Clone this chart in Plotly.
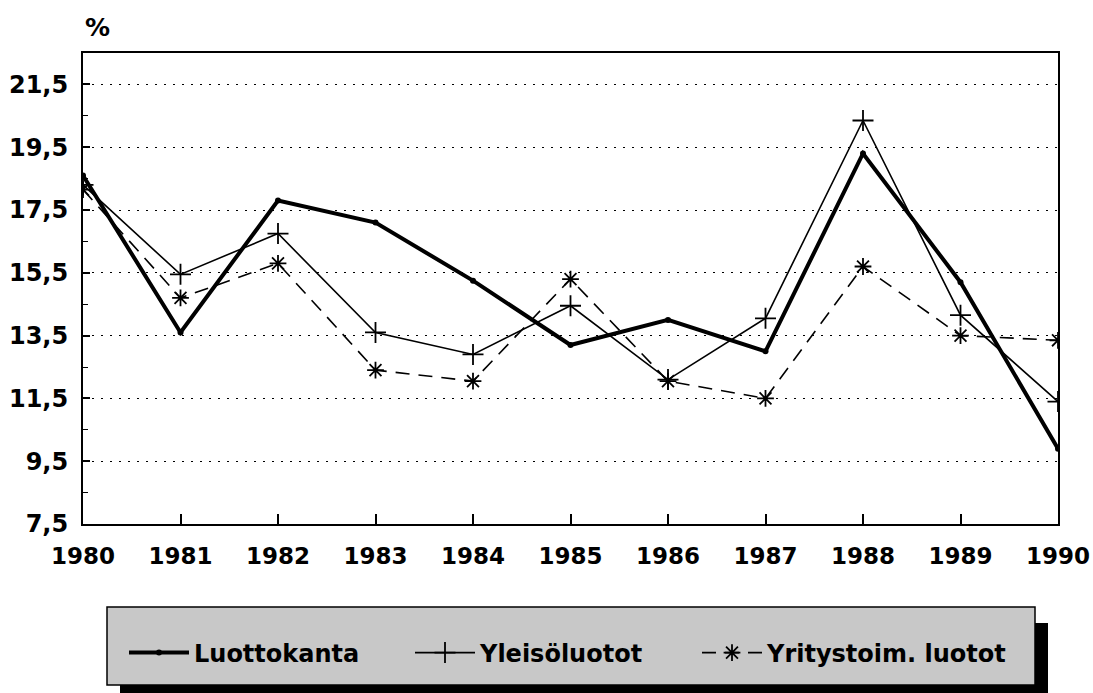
import plotly.graph_objects as go

years = [1980, 1981, 1982, 1983, 1984, 1985, 1986, 1987, 1988, 1989, 1990]
luottokanta = [18.6, 13.6, 17.8, 17.1, 15.25, 13.2, 14.0, 13.0, 19.3, 15.2, 9.9]
yleisoluotot = [18.3, 15.45, 16.75, 13.6, 12.9, 14.45, 12.1, 14.05, 20.35, 14.15, 11.4]
yritysluotot = [18.15, 14.7, 15.8, 12.4, 12.05, 15.3, 12.05, 11.5, 15.7, 13.5, 13.35]

series_names = ["Luottokanta", "Yleisöluotot", "Yritystoim. luotot"]
y_tickvals = [7.5, 9.5, 11.5, 13.5, 15.5, 17.5, 19.5, 21.5]
y_ticktext = ["7,5", "9,5", "11,5", "13,5", "15,5", "17,5", "19,5", "21,5"]
x_tickvals = years
x_ticktext = [str(y) for y in years]

W, H = 1093, 693
L, T = 83, 53
R = W - 1058
B = H - 524
PW, PH = W - L - R, H - T - B


def px_x(p):  # page pixel -> paper
    return (p - L) / PW


def px_y(p):
    return (H - B - p) / PH


def cx(p):  # page pixel -> container
    return p / W


def cy(p):
    return 1 - p / H


FONT = "DejaVu Sans"

fig = go.Figure()
fig.add_trace(go.Scatter(
    x=years, y=luottokanta, name=series_names[0], mode="lines+markers",
    line=dict(color="black", width=4),
    marker=dict(symbol="circle", size=6, color="black"),
    legend="legend",
))
fig.add_trace(go.Scatter(
    x=years, y=yleisoluotot, name=series_names[1], mode="lines+markers",
    line=dict(color="black", width=1.6),
    marker=dict(symbol="cross-thin-open", size=15, color="black",
                line=dict(color="black", width=1.8)),
    legend="legend2",
))
fig.add_trace(go.Scatter(
    x=years, y=yritysluotot, name=series_names[2], mode="lines+markers",
    line=dict(color="black", width=1.6, dash="14px,9px"),
    marker=dict(symbol="asterisk-open", size=14, color="black",
                line=dict(color="black", width=1.8)),
    legend="legend3",
))

# legend box with shadow
fig.add_shape(type="rect", xref="paper", yref="paper",
              x0=px_x(120), x1=px_x(1048), y0=px_y(623), y1=px_y(705),
              fillcolor="black", line=dict(width=0), layer="above")
fig.add_shape(type="rect", xref="paper", yref="paper",
              x0=px_x(107), x1=px_x(1035), y0=px_y(607), y1=px_y(685),
              fillcolor="#c8c8c8", line=dict(color="black", width=1.5), layer="above")

fig.add_annotation(text="%", xref="paper", yref="paper",
                   x=px_x(97), y=px_y(27), showarrow=False,
                   font=dict(family=FONT, size=25, color="black", weight="bold"),
                   xanchor="center", yanchor="middle")


def legend_at(page_x, size):
    return dict(
        orientation="h", xref="container", yref="container",
        x=cx(page_x), y=cy(653), xanchor="left", yanchor="middle",
        bgcolor="rgba(0,0,0,0)", borderwidth=0,
        font=dict(family=FONT, size=size, color="black", weight="bold"),
        itemwidth=60,
    )


fig.update_layout(
    width=W, height=H,
    margin=dict(l=L, r=R, t=T, b=B, pad=0, autoexpand=False),
    paper_bgcolor="white", plot_bgcolor="white",
    showlegend=True,
    legend=legend_at(124, 24),
    legend2=legend_at(410, 24),
    legend3=legend_at(697, 24),
    xaxis=dict(
        range=[1980, 1990], tickvals=x_tickvals, ticktext=x_ticktext,
        showline=True, linecolor="black", linewidth=2, mirror=True,
        ticks="inside", ticklen=10, tickwidth=1.5, tickcolor="black",
        showgrid=False, zeroline=False, ticklabelstandoff=10, automargin=False,
        ticklabeloverflow="allow",
        tickfont=dict(family=FONT, size=23, color="black", weight="bold"),
    ),
    yaxis=dict(
        range=[7.5, 22.5], tickvals=y_tickvals, ticktext=y_ticktext,
        showline=True, linecolor="black", linewidth=2, mirror=True,
        ticks="inside", ticklen=7, tickwidth=1.5, tickcolor="black",
        showgrid=True, gridcolor="black", gridwidth=1, griddash="2px,7px",
        zeroline=False, ticklabelstandoff=8, automargin=False,
        minor=dict(ticks="inside", ticklen=5, tickwidth=1.2, tickcolor="black",
                   dtick=1, tick0=7.5, showgrid=False),
        tickfont=dict(family=FONT, size=24, color="black", weight="bold"),
    ),
)

fig.write_html(
    "out.html",
    config={"displayModeBar": False},
    post_script="document.body.style.margin='0';document.body.style.padding='0';"
                "document.body.style.overflow='hidden';",
)
